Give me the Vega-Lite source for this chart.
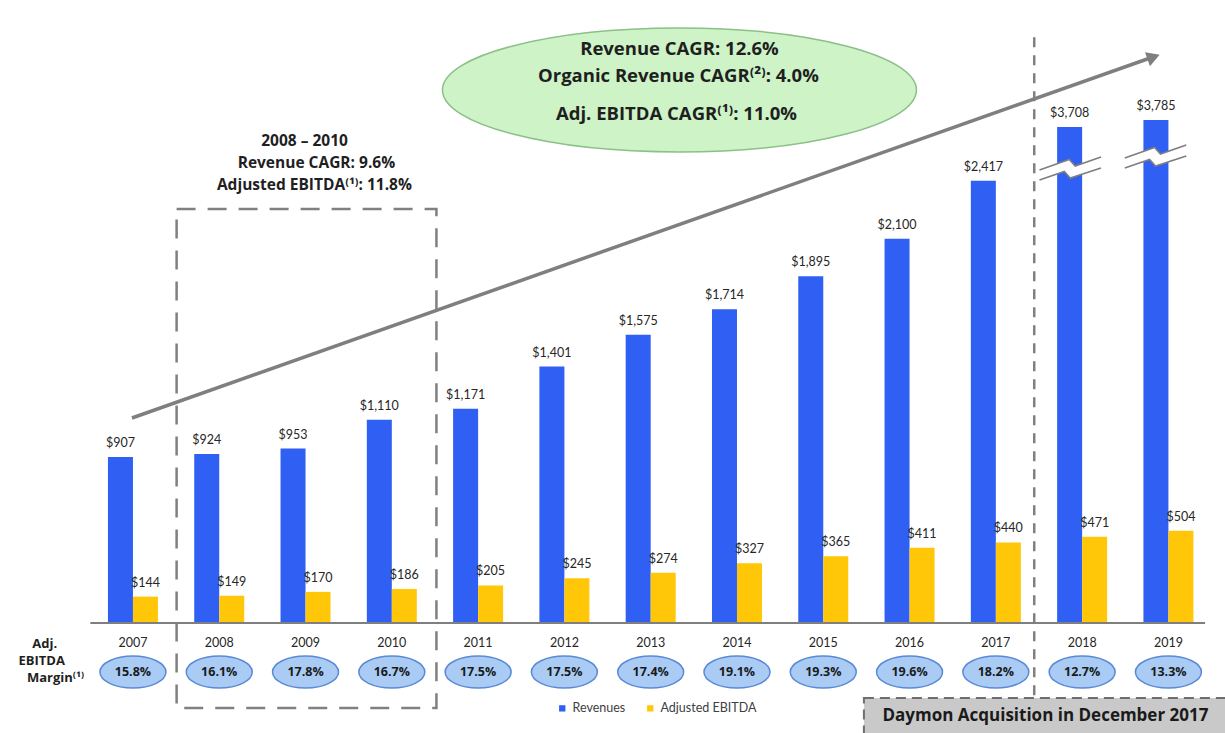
{
  "$schema": "https://vega.github.io/schema/vega-lite/v6.json",
  "width": 1225,
  "height": 733,
  "autosize": {"type": "none"},
  "padding": 0,
  "background": "white",
  "config": {"view": {"stroke": null}},
  "datasets": {
    "bars": [
      {"year": 2007, "revenue": 907, "revenue_bar": 907, "ebitda": 144, "margin": 0.158},
      {"year": 2008, "revenue": 924, "revenue_bar": 924, "ebitda": 149, "margin": 0.161},
      {"year": 2009, "revenue": 953, "revenue_bar": 953, "ebitda": 170, "margin": 0.178},
      {"year": 2010, "revenue": 1110, "revenue_bar": 1110, "ebitda": 186, "margin": 0.167},
      {"year": 2011, "revenue": 1171, "revenue_bar": 1171, "ebitda": 205, "margin": 0.175},
      {"year": 2012, "revenue": 1401, "revenue_bar": 1401, "ebitda": 245, "margin": 0.175},
      {"year": 2013, "revenue": 1575, "revenue_bar": 1575, "ebitda": 274, "margin": 0.174},
      {"year": 2014, "revenue": 1714, "revenue_bar": 1714, "ebitda": 327, "margin": 0.191},
      {"year": 2015, "revenue": 1895, "revenue_bar": 1895, "ebitda": 365, "margin": 0.193},
      {"year": 2016, "revenue": 2100, "revenue_bar": 2100, "ebitda": 411, "margin": 0.196},
      {"year": 2017, "revenue": 2417, "revenue_bar": 2417, "ebitda": 440, "margin": 0.182},
      {"year": 2018, "revenue": 3708, "revenue_bar": 2710, "ebitda": 471, "margin": 0.127},
      {"year": 2019, "revenue": 3785, "revenue_bar": 2748, "ebitda": 504, "margin": 0.133}
    ],
    "breakArea": [
      {"g": "2018", "x": 2017.5057, "yu": 2475.15, "yl": 2420.51},
      {"g": "2018", "x": 2017.7931, "yu": 2522.96, "yl": 2466.95},
      {"g": "2018", "x": 2017.8506, "yu": 2532.52, "yl": 2437.34},
      {"g": "2018", "x": 2017.8621, "yu": 2526.62, "yl": 2431.44},
      {"g": "2018", "x": 2017.9195, "yu": 2497.00, "yl": 2440.25},
      {"g": "2018", "x": 2018.2184, "yu": 2546.18, "yl": 2486.07},
      {"g": "2019", "x": 2018.4942, "yu": 2540.72, "yl": 2486.08},
      {"g": "2019", "x": 2018.7816, "yu": 2588.53, "yl": 2532.52},
      {"g": "2019", "x": 2018.8391, "yu": 2598.09, "yl": 2502.91},
      {"g": "2019", "x": 2018.8506, "yu": 2592.19, "yl": 2497.01},
      {"g": "2019", "x": 2018.9080, "yu": 2562.57, "yl": 2505.82},
      {"g": "2019", "x": 2019.2069, "yu": 2611.75, "yl": 2551.64}
    ],
    "breakLines": [
      {"id": "2018u", "x": 2017.5057, "y": 2475.15},
      {"id": "2018u", "x": 2017.8506, "y": 2532.52},
      {"id": "2018u", "x": 2017.9195, "y": 2497.00},
      {"id": "2018u", "x": 2018.2184, "y": 2546.18},
      {"id": "2018l", "x": 2017.5057, "y": 2420.51},
      {"id": "2018l", "x": 2017.7931, "y": 2466.95},
      {"id": "2018l", "x": 2017.8621, "y": 2431.44},
      {"id": "2018l", "x": 2018.2184, "y": 2486.07},
      {"id": "2019u", "x": 2018.4942, "y": 2540.72},
      {"id": "2019u", "x": 2018.8391, "y": 2598.09},
      {"id": "2019u", "x": 2018.9080, "y": 2562.57},
      {"id": "2019u", "x": 2019.2069, "y": 2611.75},
      {"id": "2019l", "x": 2018.4942, "y": 2486.08},
      {"id": "2019l", "x": 2018.7816, "y": 2532.52},
      {"id": "2019l", "x": 2018.8506, "y": 2497.01},
      {"id": "2019l", "x": 2019.2069, "y": 2551.64}
    ]
  },
  "layer": [
    {
      "data": {"values": [{"x": 2013.3333, "y": 2912.3}]},
      "mark": {"type": "point", "shape": "M-1,0C-1,-0.1445,-0.5523,-0.2616,0,-0.2616C0.5523,-0.2616,1,-0.1445,1,0C1,0.1445,0.5523,0.2616,0,0.2616C-0.5523,0.2616,-1,0.1445,-1,0Z", "size": 224676, "filled": true, "fill": "#cdf3c6", "stroke": "#8cbf89", "strokeWidth": 1.5, "opacity": 1},
      "encoding": {
        "x": {"field": "x", "type": "quantitative", "scale": {"domain": [2005.5172, 2019.5977], "nice": false, "zero": false}, "axis": null},
        "y": {"field": "y", "type": "quantitative", "scale": {"domain": [-601, 3404], "nice": false, "zero": false}, "axis": null}
      }
    },
    {
      "data": {"values": [{"x": 2006.9885, "y": 1120.1}, {"x": 2018.8046, "y": 3089.8}]},
      "mark": {"type": "line", "stroke": "#7f7f7f", "strokeWidth": 3.5},
      "encoding": {
        "x": {"field": "x", "type": "quantitative", "scale": {"domain": [2005.5172, 2019.5977], "nice": false, "zero": false}, "axis": null},
        "y": {"field": "y", "type": "quantitative", "scale": {"domain": [-601, 3404], "nice": false, "zero": false}, "axis": null}
      }
    },
    {
      "data": {"values": [{"x": 2018.8276, "y": 3092.6}]},
      "mark": {"type": "point", "shape": "triangle-right", "size": 220, "angle": -19.5, "filled": true, "fill": "#7f7f7f", "stroke": null, "opacity": 1},
      "encoding": {
        "x": {"field": "x", "type": "quantitative", "scale": {"domain": [2005.5172, 2019.5977], "nice": false, "zero": false}, "axis": null},
        "y": {"field": "y", "type": "quantitative", "scale": {"domain": [-601, 3404], "nice": false, "zero": false}, "axis": null}
      }
    },
    {
      "data": {"values": [{}]},
      "mark": {"type": "rect", "fill": null, "fillOpacity": 0, "stroke": "#808080", "strokeWidth": 2.5, "strokeDash": [19, 12]},
      "encoding": {
        "x": {"datum": 2007.506, "type": "quantitative", "scale": {"domain": [2005.5172, 2019.5977], "nice": false, "zero": false}, "axis": null},
        "x2": {"datum": 2010.517},
        "y": {"datum": 2262, "type": "quantitative", "scale": {"domain": [-601, 3404], "nice": false, "zero": false}, "axis": null},
        "y2": {"datum": -464.4}
      }
    },
    {
      "data": {"values": [{}]},
      "mark": {"type": "rule", "stroke": "#808080", "strokeWidth": 2.5, "strokeDash": [10, 8]},
      "encoding": {
        "x": {"datum": 2017.4448, "type": "quantitative", "scale": {"domain": [2005.5172, 2019.5977], "nice": false, "zero": false}, "axis": null},
        "y": {"datum": 3200, "type": "quantitative", "scale": {"domain": [-601, 3404], "nice": false, "zero": false}, "axis": null},
        "y2": {"datum": -420.7}
      }
    },
    {
      "data": {"name": "bars"},
      "mark": {"type": "bar", "width": 25, "xOffset": -12.5},
      "encoding": {
        "x": {"field": "year", "type": "quantitative", "scale": {"domain": [2005.5172, 2019.5977], "nice": false, "zero": false}, "axis": null},
        "y": {"field": "revenue_bar", "type": "quantitative", "scale": {"domain": [-601, 3404], "nice": false, "zero": false}, "axis": null},
        "y2": {"datum": 0},
        "color": {"datum": "Revenues", "scale": {"domain": ["Revenues", "Adjusted EBITDA"], "range": ["#2f5ff3", "#ffc708"]},
          "legend": {"orient": "none", "legendX": 556, "legendY": 702, "direction": "horizontal", "title": null, "symbolType": "square", "symbolSize": 40, "symbolStrokeWidth": 0, "labelFont": "Lato", "labelFontSize": 12.5, "labelColor": "#404040", "columnPadding": 18, "labelOffset": 4}}
      }
    },
    {
      "data": {"name": "bars"},
      "mark": {"type": "bar", "width": 25, "xOffset": 12.5},
      "encoding": {
        "x": {"field": "year", "type": "quantitative", "scale": {"domain": [2005.5172, 2019.5977], "nice": false, "zero": false}, "axis": null},
        "y": {"field": "ebitda", "type": "quantitative", "scale": {"domain": [-601, 3404], "nice": false, "zero": false}, "axis": null},
        "y2": {"datum": 0},
        "color": {"datum": "Adjusted EBITDA"}
      }
    },
    {
      "data": {"name": "breakArea"},
      "mark": {"type": "area", "orient": "vertical", "fill": "white", "opacity": 1},
      "encoding": {
        "x": {"field": "x", "type": "quantitative", "scale": {"domain": [2005.5172, 2019.5977], "nice": false, "zero": false}, "axis": null},
        "y": {"field": "yu", "type": "quantitative", "scale": {"domain": [-601, 3404], "nice": false, "zero": false}, "axis": null},
        "y2": {"field": "yl"},
        "detail": {"field": "g", "type": "nominal"}
      }
    },
    {
      "data": {"name": "breakLines"},
      "mark": {"type": "line", "stroke": "#7f7f7f", "strokeWidth": 1.6},
      "encoding": {
        "x": {"field": "x", "type": "quantitative", "scale": {"domain": [2005.5172, 2019.5977], "nice": false, "zero": false}, "axis": null},
        "y": {"field": "y", "type": "quantitative", "scale": {"domain": [-601, 3404], "nice": false, "zero": false}, "axis": null},
        "detail": {"field": "id", "type": "nominal"}
      }
    },
    {
      "data": {"name": "bars"},
      "mark": {"type": "text", "font": "Lato", "fontSize": 12.5, "color": "#262626", "baseline": "alphabetic", "dy": -10, "xOffset": -12.5},
      "encoding": {
        "x": {"field": "year", "type": "quantitative", "scale": {"domain": [2005.5172, 2019.5977], "nice": false, "zero": false}, "axis": null},
        "y": {"field": "revenue_bar", "type": "quantitative", "scale": {"domain": [-601, 3404], "nice": false, "zero": false}, "axis": null},
        "text": {"field": "revenue", "type": "quantitative", "format": "$,.0f"}
      }
    },
    {
      "data": {"name": "bars"},
      "mark": {"type": "text", "font": "Lato", "fontSize": 12.5, "color": "#262626", "baseline": "alphabetic", "dy": -10, "xOffset": 12.5},
      "encoding": {
        "x": {"field": "year", "type": "quantitative", "scale": {"domain": [2005.5172, 2019.5977], "nice": false, "zero": false}, "axis": null},
        "y": {"field": "ebitda", "type": "quantitative", "scale": {"domain": [-601, 3404], "nice": false, "zero": false}, "axis": null},
        "text": {"field": "ebitda", "type": "quantitative", "format": "$,.0f"}
      }
    },
    {
      "data": {"values": [{}]},
      "mark": {"type": "rule", "stroke": "#7f7f7f", "strokeWidth": 2},
      "encoding": {
        "x": {"datum": 2006.506, "type": "quantitative", "scale": {"domain": [2005.5172, 2019.5977], "nice": false, "zero": false}, "axis": null},
        "x2": {"datum": 2019.425},
        "y": {"datum": 0, "type": "quantitative", "scale": {"domain": [-601, 3404], "nice": false, "zero": false}, "axis": null}
      }
    },
    {
      "data": {"name": "bars"},
      "mark": {"type": "text", "font": "Lato", "fontSize": 12.5, "color": "#262626", "baseline": "middle"},
      "encoding": {
        "x": {"field": "year", "type": "quantitative", "scale": {"domain": [2005.5172, 2019.5977], "nice": false, "zero": false}, "axis": null},
        "y": {"datum": -109, "type": "quantitative", "scale": {"domain": [-601, 3404], "nice": false, "zero": false}, "axis": null},
        "text": {"field": "year", "type": "nominal"}
      }
    },
    {
      "data": {"name": "bars"},
      "mark": {"type": "point", "shape": "M-1,0C-1,-0.2678,-0.5523,-0.4848,0,-0.4848C0.5523,-0.4848,1,-0.2678,1,0C1,0.2678,0.5523,0.4848,0,0.4848C-0.5523,0.4848,-1,0.2678,-1,0Z", "size": 4356, "filled": true, "fill": "#a9cbf4", "stroke": "#5a8ad6", "strokeWidth": 1.5, "opacity": 1},
      "encoding": {
        "x": {"field": "year", "type": "quantitative", "scale": {"domain": [2005.5172, 2019.5977], "nice": false, "zero": false}, "axis": null},
        "y": {"datum": -268, "type": "quantitative", "scale": {"domain": [-601, 3404], "nice": false, "zero": false}, "axis": null}
      }
    },
    {
      "data": {"name": "bars"},
      "mark": {"type": "text", "font": "Open Sans", "fontWeight": "bold", "fontSize": 12.5, "color": "#1a1a1a", "baseline": "middle"},
      "encoding": {
        "x": {"field": "year", "type": "quantitative", "scale": {"domain": [2005.5172, 2019.5977], "nice": false, "zero": false}, "axis": null},
        "y": {"datum": -268, "type": "quantitative", "scale": {"domain": [-601, 3404], "nice": false, "zero": false}, "axis": null},
        "text": {"field": "margin", "type": "quantitative", "format": ".1%"}
      }
    },
    {
      "data": {"values": [
        {"x": 2005.977, "y": -114.7, "label": "Adj."},
        {"x": 2005.943, "y": -207.6, "label": "EBITDA"},
        {"x": 2006.103, "y": -300.5, "label": "Margin⁽¹⁾"}
      ]},
      "mark": {"type": "text", "font": "Open Sans", "fontWeight": "bold", "fontSize": 13, "color": "#1f1f1f", "baseline": "middle"},
      "encoding": {
        "x": {"field": "x", "type": "quantitative", "scale": {"domain": [2005.5172, 2019.5977], "nice": false, "zero": false}, "axis": null},
        "y": {"field": "y", "type": "quantitative", "scale": {"domain": [-601, 3404], "nice": false, "zero": false}, "axis": null},
        "text": {"field": "label", "type": "nominal"}
      }
    },
    {
      "data": {"values": [
        {"x": 2008.989, "y": 2633.6, "label": "2008 – 2010"},
        {"x": 2009.126, "y": 2513.4, "label": "Revenue CAGR: 9.6%"},
        {"x": 2009.103, "y": 2393.2, "label": "Adjusted EBITDA⁽¹⁾: 11.8%"}
      ]},
      "mark": {"type": "text", "font": "Open Sans", "fontWeight": "bold", "fontSize": 15.5, "color": "#1f1f1f", "baseline": "middle"},
      "encoding": {
        "x": {"field": "x", "type": "quantitative", "scale": {"domain": [2005.5172, 2019.5977], "nice": false, "zero": false}, "axis": null},
        "y": {"field": "y", "type": "quantitative", "scale": {"domain": [-601, 3404], "nice": false, "zero": false}, "axis": null},
        "text": {"field": "label", "type": "nominal"}
      }
    },
    {
      "data": {"values": [
        {"x": 2013.3333, "y": 3136.3, "label": "Revenue CAGR: 12.6%"},
        {"x": 2013.3218, "y": 2988.8, "label": "Organic Revenue CAGR⁽²⁾: 4.0%"},
        {"x": 2013.2989, "y": 2781.1, "label": "Adj. EBITDA CAGR⁽¹⁾: 11.0%"}
      ]},
      "mark": {"type": "text", "font": "Open Sans", "fontWeight": "bold", "fontSize": 18.5, "color": "#1f1f1f", "baseline": "middle"},
      "encoding": {
        "x": {"field": "x", "type": "quantitative", "scale": {"domain": [2005.5172, 2019.5977], "nice": false, "zero": false}, "axis": null},
        "y": {"field": "y", "type": "quantitative", "scale": {"domain": [-601, 3404], "nice": false, "zero": false}, "axis": null},
        "text": {"field": "label", "type": "nominal"}
      }
    },
    {
      "data": {"values": [{}]},
      "mark": {"type": "rect", "fill": "#c9c9c9", "stroke": "#6e6e6e", "strokeWidth": 2, "strokeDash": [10, 6]},
      "encoding": {
        "x": {"datum": 2015.471, "type": "quantitative", "scale": {"domain": [2005.5172, 2019.5977], "nice": false, "zero": false}, "axis": null},
        "x2": {"datum": 2019.75},
        "y": {"datum": -409.8, "type": "quantitative", "scale": {"domain": [-601, 3404], "nice": false, "zero": false}, "axis": null},
        "y2": {"datum": -680}
      }
    },
    {
      "data": {"values": [{"x": 2017.575, "y": -508.1, "label": "Daymon Acquisition in December 2017"}]},
      "mark": {"type": "text", "font": "Open Sans", "fontWeight": "bold", "fontSize": 17, "color": "#1a1a1a", "baseline": "middle"},
      "encoding": {
        "x": {"field": "x", "type": "quantitative", "scale": {"domain": [2005.5172, 2019.5977], "nice": false, "zero": false}, "axis": null},
        "y": {"field": "y", "type": "quantitative", "scale": {"domain": [-601, 3404], "nice": false, "zero": false}, "axis": null},
        "text": {"field": "label", "type": "nominal"}
      }
    }
  ]
}
